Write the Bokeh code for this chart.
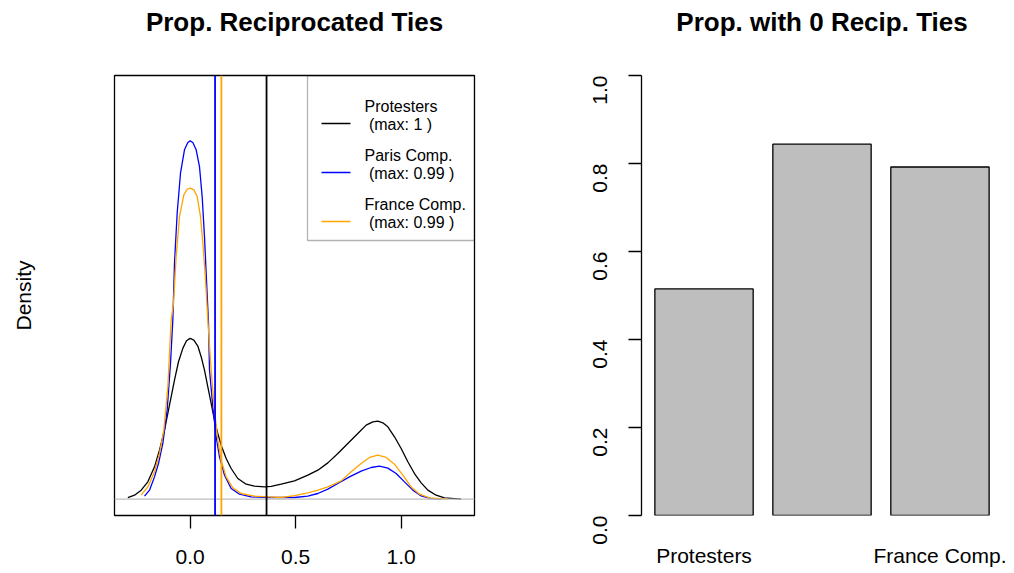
import math
from bokeh.plotting import figure
from bokeh.models import (Range1d, FixedTicker, NumeralTickFormatter, Title,
                          Span, BoxAnnotation, ColumnDataSource)
from bokeh.layouts import row
from bokeh.core.properties import value
from bokeh.embed import file_html
from bokeh.resources import INLINE

# ---------------- data ----------------
series_names = ["Protesters", "Paris Comp.", "France Comp."]
series_max = ["1", "0.99", "0.99"]
series_colors = ["#000000", "#0000FF", "#FFA500"]

prot_x = [-0.2954, -0.2638, -0.2322, -0.2006, -0.1690, -0.1454, -0.1217, -0.0980, -0.0743,
          -0.0553, -0.0348, -0.0174, 0.0, 0.0174, 0.0363, 0.0521, 0.0679, 0.0837, 0.0995,
          0.1153, 0.1311, 0.1469, 0.1706, 0.1943, 0.2259, 0.2654, 0.3049, 0.3523, 0.3839,
          0.4313, 0.4945, 0.5577, 0.6051, 0.6525, 0.6999, 0.7472, 0.7946, 0.8341, 0.8657,
          0.8894, 0.9131, 0.9368, 0.9684, 1.0, 1.0316, 1.0632, 1.0948, 1.1264, 1.1659,
          1.2054, 1.2844]
prot_y = [0.0205, 0.049, 0.111, 0.213, 0.397, 0.602, 0.848, 1.155, 1.462,
          1.687, 1.851, 1.945, 1.974, 1.953, 1.880, 1.749, 1.585, 1.380, 1.175,
          0.971, 0.807, 0.663, 0.500, 0.377, 0.254, 0.184, 0.160, 0.151, 0.158,
          0.184, 0.225, 0.295, 0.356, 0.446, 0.561, 0.684, 0.807, 0.909, 0.950,
          0.958, 0.938, 0.889, 0.766, 0.622, 0.459, 0.315, 0.201, 0.111, 0.049,
          0.016, 0.0]

paris_x = [-0.2164, -0.1927, -0.1690, -0.1501, -0.1295, -0.1090, -0.0932, -0.0821, -0.0743,
           -0.0616, -0.0458, -0.0269, -0.0110, 0.0, 0.0126, 0.0284, 0.0442, 0.0569, 0.0679,
           0.0774, 0.0869, 0.0916, 0.1074, 0.1232, 0.1390, 0.1627, 0.1943, 0.2338, 0.2891,
           0.3681, 0.4945, 0.5577, 0.6051, 0.6525, 0.6999, 0.7551, 0.8104, 0.8578, 0.8973,
           0.9368, 0.9763, 1.0158, 1.0553, 1.0948, 1.1422, 1.1896]
paris_y = [0.037, 0.111, 0.274, 0.438, 0.684, 1.093, 1.667, 2.199, 2.895,
           3.509, 4.001, 4.288, 4.378, 4.398, 4.378, 4.288, 4.083, 3.714, 3.223,
           2.690, 2.162, 1.585, 1.134, 0.766, 0.520, 0.295, 0.131, 0.061, 0.029,
           0.021, 0.021, 0.037, 0.070, 0.123, 0.193, 0.274, 0.344, 0.389, 0.405,
           0.381, 0.315, 0.213, 0.111, 0.041, 0.008, 0.0]

france_x = [-0.2322, -0.2006, -0.1690, -0.1454, -0.1248, -0.1058, -0.0900, -0.0790, -0.0664,
            -0.0506, -0.0300, -0.0142, 0.0, 0.0174, 0.0332, 0.0490, 0.0616, 0.0727, 0.0837,
            0.0995, 0.1153, 0.1311, 0.1469, 0.1706, 0.2022, 0.2417, 0.3049, 0.3681, 0.4313,
            0.4945, 0.5577, 0.6051, 0.6525, 0.7156, 0.7630, 0.8104, 0.8499, 0.8894, 0.9289,
            0.9684, 1.0079, 1.0474, 1.0869, 1.1343, 1.2212]
france_y = [0.049, 0.151, 0.336, 0.561, 0.848, 1.380, 2.199, 2.404, 2.977,
            3.468, 3.735, 3.804, 3.817, 3.796, 3.714, 3.468, 3.100, 2.690, 2.199,
            1.585, 1.093, 0.725, 0.479, 0.274, 0.139, 0.070, 0.037, 0.029, 0.021,
            0.045, 0.078, 0.111, 0.151, 0.225, 0.336, 0.438, 0.512, 0.541, 0.512,
            0.430, 0.295, 0.151, 0.061, 0.016, 0.0]

observed_values = [0.362, 0.118, 0.148]   # vertical reference lines

left_ticks = [0.0, 0.5, 1.0]

bar_categories = ["Protesters", "Paris Comp.", "France Comp."]
bar_values = [0.515, 0.844, 0.792]
shown_bar_labels = ["Protesters", "France Comp."]   # R drops the overlapping middle label
right_ticks = [0.0, 0.2, 0.4, 0.6, 0.8, 1.0]

# ---------------- style ----------------
FONT = "Liberation Sans"
LW = 1.3

curves = [(prot_x, prot_y), (paris_x, paris_y), (france_x, france_y)]

all_x = prot_x + paris_x + france_x
xspan = max(all_x) - min(all_x)
xlo, xhi = min(all_x) - 0.04 * xspan, max(all_x) + 0.04 * xspan
YTOP = 5.0
ylo, yhi = -0.04 * YTOP, 1.04 * YTOP

FL, FT, FW, FH = 114, 75, 360, 440   # left frame (page px)


def dx(px):
    return xlo + (px - FL) / FW * (xhi - xlo)


def dy(py):
    return yhi - (py - FT) / FH * (yhi - ylo)


def style_title(p):
    # spacer between frame and title (pushes the title up like R's main title)
    p.add_layout(Title(text=" ", text_font_size="1px", standoff=36), "above")
    p.title.text_font = FONT
    p.title.text_font_size = "26px"
    p.title.text_font_style = "bold"
    p.title.text_color = "black"
    p.title.align = "center"
    p.title.vertical_align = "bottom"
    p.title.standoff = 0


# ---------------- left panel ----------------
p1 = figure(frame_width=FW, frame_height=FH, min_border_left=114, min_border_right=53,
            min_border_top=75, min_border_bottom=56,
            x_range=Range1d(xlo, xhi), y_range=Range1d(ylo, yhi),
            output_backend="svg", toolbar_location=None,
            title="Prop. Reciprocated Ties")
style_title(p1)
p1.xgrid.visible = False
p1.ygrid.visible = False
p1.outline_line_color = "black"
p1.outline_line_width = LW
p1.background_fill_color = "white"
p1.border_fill_color = "white"

p1.add_layout(Span(location=0, dimension="width", line_color="#BEBEBE", line_width=LW))

for (xs, ys), c in zip(curves, series_colors):
    p1.line(xs, ys, line_color=c, line_width=LW, line_join="round")

for v, c in zip(observed_values, series_colors):
    p1.add_layout(Span(location=v, dimension="height", line_color=c, line_width=1.8))

xa = p1.xaxis[0]
xa.ticker = FixedTicker(ticks=left_ticks)
xa.formatter = NumeralTickFormatter(format="0.0")
xa.major_tick_out = 13
xa.major_tick_in = 0
xa.minor_tick_line_color = None
xa.major_tick_line_width = LW
xa.axis_line_color = None
xa.major_label_text_font = FONT
xa.major_label_text_font_size = "21px"
xa.major_label_text_color = "black"
xa.major_label_standoff = 21

ya = p1.yaxis[0]
ya.ticker = FixedTicker(ticks=[])
ya.axis_line_color = None
ya.major_tick_line_color = None
ya.minor_tick_line_color = None
ya.major_label_standoff = 0
ya.axis_label = "Density"
ya.axis_label_text_font = FONT
ya.axis_label_text_font_size = "21px"
ya.axis_label_text_font_style = "normal"
ya.axis_label_text_color = "black"
ya.axis_label_standoff = 80

# legend (drawn manually to match R's two-line entries)
p1.add_layout(BoxAnnotation(left=dx(307), right=dx(474), top=dy(75), bottom=dy(240),
                            fill_alpha=0, line_color="black", line_width=LW))
row_step = 49.0
name_py = [105.7 + i * row_step for i in range(3)]
max_py = [124.3 + i * row_step for i in range(3)]
line_py = [123.0 + i * row_step for i in range(3)]
leg_src = ColumnDataSource(dict(
    x0=[dx(321)] * 3, x1=[dx(350)] * 3,
    yl=[dy(v) for v in line_py], color=series_colors))
p1.segment(x0="x0", x1="x1", y0="yl", y1="yl", line_color="color", line_width=LW,
           source=leg_src)
p1.text(x=[dx(364)] * 3, y=[dy(v) for v in name_py], text=series_names,
        text_font=value(FONT), text_font_size="16px", text_baseline="middle",
        text_align="left", text_color="black")
p1.text(x=[dx(364)] * 3, y=[dy(v) for v in max_py],
        text=["\u00a0(max: %s )" % m for m in series_max],
        text_font=value(FONT), text_font_size="16px", text_baseline="middle",
        text_align="left", text_color="black")

# ---------------- right panel ----------------
bar_width = 1.0
bar_space = 0.2
bar_centers = [round(bar_space + bar_width / 2 + i * (bar_width + bar_space), 4)
               for i in range(len(bar_categories))]
bl = bar_centers[0] - bar_width / 2
br = bar_centers[-1] + bar_width / 2
bpad = 0.04 * (br - bl)

p2 = figure(frame_width=361, frame_height=FH, min_border_left=114, min_border_right=10,
            min_border_top=75, min_border_bottom=56,
            x_range=Range1d(bl - bpad, br + bpad), y_range=Range1d(0, 1),
            output_backend="svg", toolbar_location=None,
            title="Prop. with 0 Recip. Ties")
style_title(p2)
p2.xgrid.visible = False
p2.ygrid.visible = False
p2.outline_line_color = None
p2.background_fill_color = "white"
p2.border_fill_color = "white"

p2.vbar(x=bar_centers, top=bar_values, bottom=0, width=bar_width,
        fill_color="#BEBEBE", line_color="black", line_width=LW)

label_ticks = [bar_centers[bar_categories.index(n)] for n in shown_bar_labels]
xb = p2.xaxis[0]
xb.ticker = FixedTicker(ticks=label_ticks)
xb.major_label_overrides = {t: n for t, n in zip(label_ticks, shown_bar_labels)}
xb.axis_line_color = None
xb.major_tick_line_color = None
xb.minor_tick_line_color = None
xb.major_label_text_font = FONT
xb.major_label_text_font_size = "21px"
xb.major_label_text_color = "black"
xb.major_label_standoff = 22

yb = p2.yaxis[0]
yb.ticker = FixedTicker(ticks=right_ticks)
yb.formatter = NumeralTickFormatter(format="0.0")
yb.major_tick_out = 13
yb.major_tick_in = 0
yb.minor_tick_line_color = None
yb.major_tick_line_width = LW
yb.axis_line_width = LW
yb.major_label_orientation = math.pi / 2
yb.major_label_text_font = FONT
yb.major_label_text_font_size = "21px"
yb.major_label_text_color = "black"
yb.major_label_standoff = 29

layout = row(p1, p2)
open("out.html", "w").write(file_html(layout, INLINE))
